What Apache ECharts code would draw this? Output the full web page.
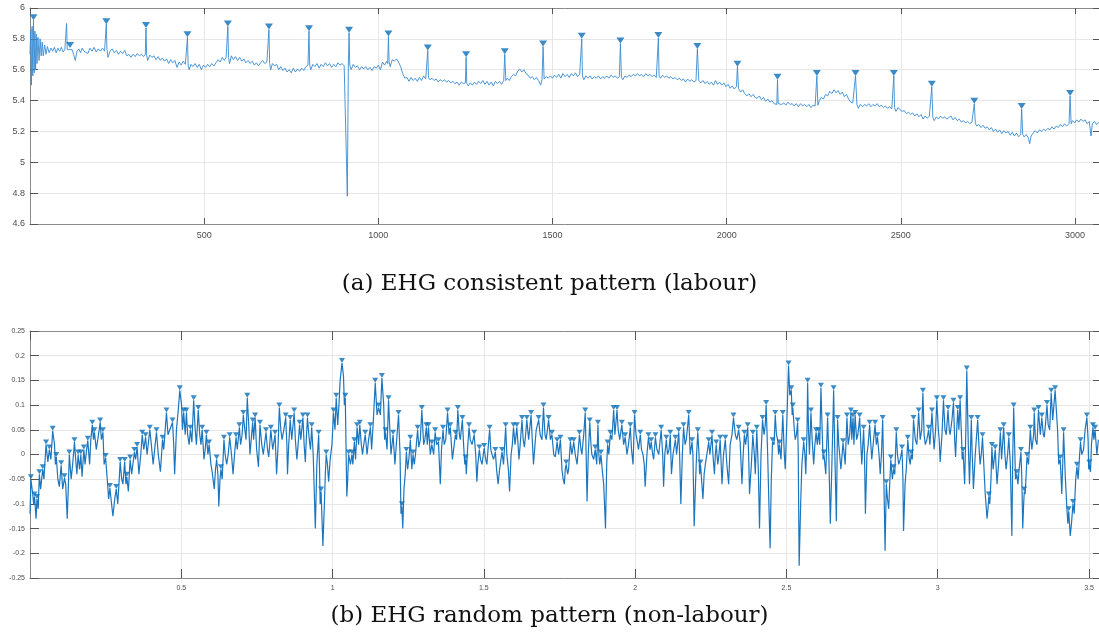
<!DOCTYPE html>
<html>
<head>
<meta charset="utf-8">
<script src="https://cdn.jsdelivr.net/npm/echarts@6/dist/echarts.min.js"></script>
<style>
html,body{margin:0;padding:0;background:#fff;}
#chart{width:1099px;height:635px;}
</style>
</head>
<body>
<div id="chart"></div>
<script>
// ---- Panel (a): EHG consistent pattern (labour) ----
const topSignal = [[0,5.70],[2,5.86],[4,5.50],[6,5.88],[8,5.56],[10,5.92],[12,5.58],[14,5.85],[16,5.60],[18,5.83],[20,5.64],[23,5.81],[26,5.66],[29,5.80],[32,5.69],[35,5.78],[38,5.69],[42,5.76],[46,5.70],[50,5.75],[55,5.71],[60,5.74],[65,5.72],[70,5.745],[75,5.71],[80,5.74],[85,5.72],[90,5.745],[95,5.715],[100,5.73],[103,5.74],[105,5.90],[107,5.73],[110,5.72],[113,5.73],[115,5.74],[117,5.72],[121,5.73],[125,5.70],[130,5.66],[135,5.72],[140,5.735],[145,5.71],[150,5.74],[155,5.72],[160,5.73],[166,5.705],[172,5.74],[178,5.72],[184,5.745],[190,5.715],[196,5.735],[202,5.72],[208,5.74],[214,5.72],[217,5.73],[219,5.895],[221,5.73],[224,5.68],[230,5.72],[236,5.735],[242,5.71],[248,5.725],[254,5.70],[260,5.72],[266,5.705],[272,5.725],[278,5.69],[284,5.70],[290,5.68],[296,5.70],[302,5.685],[308,5.705],[314,5.69],[320,5.70],[326,5.685],[331,5.70],[333,5.87],[335,5.69],[338,5.66],[344,5.695],[350,5.68],[356,5.69],[362,5.665],[368,5.685],[374,5.66],[380,5.675],[386,5.655],[392,5.67],[398,5.64],[404,5.665],[410,5.645],[416,5.66],[422,5.615],[428,5.65],[434,5.63],[440,5.655],[446,5.635],[450,5.64],[452,5.81],[454,5.63],[457,5.60],[462,5.635],[468,5.62],[474,5.64],[480,5.615],[486,5.635],[492,5.60],[498,5.63],[504,5.615],[510,5.635],[516,5.62],[522,5.64],[528,5.625],[534,5.645],[540,5.665],[546,5.65],[552,5.68],[558,5.66],[563,5.68],[566,5.67],[568,5.88],[570,5.68],[573,5.64],[578,5.69],[584,5.665],[590,5.685],[596,5.66],[602,5.68],[608,5.655],[614,5.67],[620,5.645],[626,5.66],[632,5.64],[638,5.655],[644,5.63],[650,5.645],[656,5.625],[662,5.645],[668,5.66],[674,5.64],[680,5.65],[684,5.64],[686,5.86],[688,5.64],[691,5.60],[696,5.64],[702,5.625],[708,5.635],[714,5.60],[720,5.62],[726,5.595],[732,5.61],[738,5.585],[744,5.60],[750,5.58],[756,5.61],[762,5.585],[768,5.605],[774,5.59],[780,5.61],[786,5.595],[792,5.62],[798,5.63],[801,5.85],[803,5.63],[806,5.60],[812,5.635],[818,5.62],[824,5.64],[830,5.61],[836,5.635],[842,5.62],[848,5.645],[854,5.625],[860,5.64],[866,5.615],[872,5.635],[878,5.62],[884,5.645],[890,5.63],[896,5.64],[902,5.625],[907,5.635],[911,4.78],[914,5.63],[916,5.84],[918,5.63],[922,5.60],[928,5.635],[934,5.615],[940,5.625],[946,5.60],[952,5.62],[958,5.605],[964,5.62],[970,5.60],[976,5.615],[982,5.595],[988,5.62],[994,5.61],[1000,5.63],[1006,5.60],[1012,5.65],[1018,5.63],[1024,5.655],[1027,5.64],[1029,5.815],[1031,5.65],[1034,5.62],[1040,5.665],[1046,5.655],[1052,5.67],[1058,5.65],[1064,5.62],[1070,5.575],[1076,5.545],[1082,5.55],[1088,5.525],[1094,5.55],[1100,5.53],[1106,5.545],[1112,5.525],[1118,5.55],[1124,5.53],[1130,5.56],[1136,5.54],[1140,5.55],[1142,5.725],[1144,5.55],[1148,5.535],[1154,5.545],[1160,5.53],[1166,5.54],[1172,5.52],[1178,5.535],[1184,5.525],[1190,5.535],[1196,5.52],[1202,5.53],[1208,5.515],[1214,5.525],[1220,5.51],[1226,5.52],[1232,5.50],[1238,5.52],[1244,5.51],[1250,5.515],[1252,5.68],[1254,5.51],[1258,5.495],[1264,5.515],[1270,5.50],[1276,5.52],[1282,5.505],[1288,5.525],[1294,5.51],[1300,5.53],[1306,5.505],[1312,5.525],[1318,5.50],[1324,5.52],[1330,5.495],[1336,5.525],[1342,5.51],[1348,5.525],[1354,5.505],[1360,5.53],[1363,5.70],[1366,5.53],[1370,5.545],[1376,5.53],[1382,5.555],[1388,5.57],[1394,5.56],[1400,5.59],[1406,5.605],[1412,5.585],[1418,5.60],[1424,5.575],[1430,5.565],[1436,5.545],[1442,5.555],[1448,5.535],[1454,5.55],[1460,5.53],[1466,5.50],[1470,5.535],[1473,5.75],[1476,5.54],[1482,5.555],[1488,5.545],[1494,5.56],[1500,5.545],[1506,5.565],[1512,5.55],[1518,5.57],[1524,5.545],[1530,5.575],[1536,5.555],[1542,5.57],[1548,5.55],[1554,5.575],[1560,5.56],[1566,5.58],[1572,5.555],[1578,5.57],[1582,5.56],[1584,5.80],[1586,5.56],[1590,5.535],[1596,5.56],[1602,5.545],[1608,5.56],[1614,5.54],[1620,5.555],[1626,5.545],[1632,5.56],[1638,5.54],[1644,5.555],[1650,5.545],[1656,5.56],[1662,5.545],[1668,5.565],[1674,5.55],[1680,5.56],[1686,5.545],[1692,5.555],[1695,5.77],[1698,5.55],[1702,5.535],[1708,5.56],[1714,5.55],[1720,5.565],[1726,5.555],[1732,5.57],[1738,5.56],[1744,5.575],[1750,5.56],[1756,5.57],[1762,5.555],[1768,5.575],[1774,5.56],[1780,5.57],[1786,5.555],[1792,5.565],[1798,5.55],[1802,5.56],[1804,5.805],[1806,5.56],[1810,5.545],[1816,5.565],[1822,5.55],[1828,5.56],[1834,5.545],[1840,5.555],[1846,5.54],[1852,5.55],[1858,5.535],[1864,5.545],[1870,5.53],[1876,5.54],[1882,5.52],[1888,5.54],[1894,5.525],[1900,5.535],[1906,5.52],[1912,5.53],[1916,5.735],[1920,5.53],[1926,5.515],[1932,5.53],[1938,5.51],[1944,5.525],[1950,5.505],[1956,5.52],[1962,5.50],[1968,5.53],[1974,5.505],[1980,5.52],[1986,5.50],[1992,5.515],[1998,5.49],[2004,5.505],[2010,5.48],[2016,5.495],[2022,5.475],[2028,5.49],[2031,5.62],[2034,5.48],[2040,5.455],[2046,5.47],[2052,5.445],[2058,5.43],[2064,5.445],[2070,5.425],[2076,5.44],[2082,5.42],[2088,5.415],[2094,5.43],[2100,5.405],[2106,5.42],[2112,5.395],[2118,5.41],[2124,5.39],[2130,5.40],[2136,5.38],[2140,5.39],[2144,5.375],[2146,5.535],[2148,5.38],[2152,5.39],[2158,5.375],[2164,5.385],[2170,5.37],[2176,5.39],[2182,5.375],[2188,5.38],[2194,5.365],[2200,5.38],[2206,5.36],[2212,5.38],[2218,5.365],[2224,5.375],[2230,5.36],[2236,5.375],[2242,5.355],[2248,5.37],[2254,5.365],[2259,5.56],[2262,5.37],[2266,5.40],[2272,5.42],[2278,5.41],[2284,5.44],[2290,5.43],[2296,5.46],[2302,5.445],[2308,5.47],[2314,5.45],[2320,5.465],[2326,5.44],[2332,5.455],[2338,5.425],[2344,5.44],[2350,5.41],[2356,5.39],[2362,5.385],[2366,5.38],[2370,5.56],[2374,5.375],[2378,5.35],[2384,5.375],[2390,5.36],[2396,5.375],[2402,5.365],[2408,5.38],[2414,5.36],[2420,5.375],[2426,5.365],[2432,5.38],[2438,5.36],[2444,5.37],[2450,5.355],[2456,5.365],[2462,5.35],[2468,5.36],[2474,5.345],[2478,5.355],[2480,5.56],[2482,5.355],[2486,5.33],[2492,5.355],[2498,5.34],[2504,5.33],[2510,5.335],[2516,5.315],[2522,5.325],[2528,5.31],[2534,5.32],[2540,5.30],[2546,5.315],[2552,5.295],[2558,5.31],[2564,5.28],[2570,5.30],[2576,5.285],[2582,5.30],[2586,5.29],[2589,5.49],[2592,5.29],[2596,5.27],[2602,5.295],[2608,5.28],[2614,5.30],[2620,5.285],[2626,5.295],[2632,5.28],[2638,5.29],[2644,5.30],[2650,5.275],[2656,5.29],[2662,5.27],[2668,5.28],[2674,5.26],[2680,5.27],[2686,5.255],[2692,5.265],[2698,5.25],[2704,5.26],[2708,5.25],[2711,5.38],[2714,5.25],[2718,5.235],[2724,5.245],[2730,5.225],[2736,5.24],[2742,5.22],[2748,5.23],[2754,5.21],[2760,5.225],[2766,5.20],[2772,5.215],[2778,5.195],[2784,5.21],[2790,5.185],[2796,5.205],[2802,5.19],[2808,5.20],[2814,5.175],[2820,5.195],[2826,5.17],[2832,5.19],[2838,5.165],[2844,5.18],[2847,5.345],[2850,5.18],[2854,5.165],[2860,5.18],[2866,5.16],[2870,5.12],[2874,5.17],[2880,5.19],[2886,5.205],[2892,5.19],[2898,5.21],[2904,5.20],[2910,5.215],[2916,5.205],[2922,5.22],[2928,5.21],[2934,5.23],[2940,5.215],[2946,5.235],[2952,5.225],[2958,5.245],[2964,5.23],[2970,5.25],[2976,5.235],[2980,5.24],[2983,5.25],[2986,5.43],[2989,5.25],[2993,5.27],[2999,5.255],[3005,5.275],[3011,5.26],[3017,5.28],[3023,5.265],[3029,5.275],[3035,5.25],[3041,5.265],[3046,5.17],[3050,5.25],[3056,5.265],[3062,5.245],[3068,5.26]];

const topPeaks = [[10,5.92],[115,5.74],[219,5.895],[333,5.87],[452,5.81],[568,5.88],[686,5.86],[801,5.85],[916,5.84],[1029,5.815],[1142,5.725],[1252,5.68],[1363,5.70],[1473,5.75],[1584,5.80],[1695,5.77],[1804,5.805],[1916,5.735],[2031,5.62],[2146,5.535],[2259,5.56],[2370,5.56],[2480,5.56],[2589,5.49],[2711,5.38],[2847,5.345],[2986,5.43]];

// ---- Panel (b): EHG random pattern (non-labour) ----
const bottomSignal = [[0.000,-0.12],[0.003,-0.05],[0.009,-0.08],[0.012,-0.1],[0.015,-0.085],[0.020,-0.13],[0.023,-0.09],[0.027,-0.11],[0.031,-0.04],[0.035,-0.07],[0.042,-0.03],[0.046,-0.05],[0.053,0.02],[0.059,-0.015],[0.064,0.01],[0.069,-0.01],[0.075,0.048],[0.081,0.02],[0.084,-0.02],[0.087,-0.005],[0.092,-0.05],[0.097,-0.065],[0.103,-0.022],[0.108,-0.07],[0.114,-0.048],[0.118,-0.06],[0.123,-0.13],[0.127,-0.06],[0.130,0.0],[0.136,-0.05],[0.141,-0.02],[0.147,0.025],[0.151,-0.01],[0.155,-0.04],[0.159,0.0],[0.164,-0.03],[0.168,0.0],[0.172,-0.045],[0.178,0.01],[0.182,-0.02],[0.187,0.01],[0.191,0.028],[0.197,-0.02],[0.201,0.03],[0.206,0.06],[0.210,0.03],[0.213,0.045],[0.219,0.01],[0.224,0.03],[0.232,0.065],[0.236,0.03],[0.241,0.045],[0.245,-0.02],[0.250,-0.007],[0.254,-0.04],[0.260,-0.09],[0.264,-0.068],[0.274,-0.125],[0.280,-0.09],[0.285,-0.07],[0.290,-0.1],[0.294,-0.06],[0.298,-0.015],[0.303,-0.05],[0.307,-0.06],[0.313,-0.015],[0.317,-0.06],[0.320,-0.045],[0.325,-0.075],[0.331,-0.01],[0.336,-0.04],[0.340,-0.02],[0.345,0.005],[0.349,-0.01],[0.354,0.015],[0.360,-0.04],[0.366,0.0],[0.371,0.04],[0.376,0.01],[0.382,0.035],[0.387,0.0],[0.396,0.05],[0.401,0.02],[0.407,-0.02],[0.412,0.01],[0.418,0.045],[0.424,0.0],[0.431,-0.035],[0.438,0.03],[0.442,0.01],[0.451,0.085],[0.456,0.04],[0.462,0.05],[0.471,0.065],[0.475,0.02],[0.478,-0.04],[0.484,0.05],[0.490,0.09],[0.495,0.13],[0.501,0.1],[0.504,0.05],[0.508,0.085],[0.513,0.04],[0.517,0.085],[0.521,0.04],[0.526,0.02],[0.530,0.05],[0.535,0.025],[0.541,0.11],[0.546,0.05],[0.550,0.02],[0.556,0.09],[0.561,0.04],[0.565,0.02],[0.569,0.05],[0.575,-0.01],[0.579,0.01],[0.583,0.04],[0.588,0.0],[0.592,0.02],[0.598,-0.02],[0.602,-0.035],[0.609,-0.07],[0.613,-0.03],[0.617,-0.01],[0.621,-0.04],[0.624,-0.105],[0.628,-0.05],[0.631,-0.03],[0.635,-0.05],[0.641,0.03],[0.645,0.0],[0.650,-0.02],[0.655,0.0],[0.660,0.035],[0.666,0.0],[0.671,-0.04],[0.676,0.0],[0.681,0.035],[0.685,0.01],[0.692,0.055],[0.696,0.02],[0.701,0.04],[0.705,0.08],[0.710,0.05],[0.714,0.03],[0.718,0.115],[0.723,0.06],[0.727,0.0],[0.731,0.03],[0.736,0.065],[0.739,0.03],[0.744,0.075],[0.749,0.01],[0.755,-0.025],[0.760,0.06],[0.766,0.02],[0.771,0.0],[0.780,0.045],[0.785,0.01],[0.789,-0.005],[0.796,0.05],[0.802,0.01],[0.810,0.04],[0.815,-0.04],[0.820,0.02],[0.824,0.095],[0.829,0.05],[0.833,0.03],[0.839,0.05],[0.845,0.075],[0.849,0.02],[0.851,-0.04],[0.855,0.02],[0.860,0.07],[0.865,0.03],[0.873,0.085],[0.877,0.03],[0.882,-0.01],[0.886,0.02],[0.891,0.06],[0.895,0.03],[0.902,0.075],[0.906,0.02],[0.910,-0.015],[0.913,0.03],[0.917,0.075],[0.923,0.03],[0.927,0.01],[0.931,0.055],[0.936,0.0],[0.943,-0.15],[0.948,-0.02],[0.954,0.04],[0.957,-0.03],[0.959,-0.1],[0.962,-0.075],[0.968,-0.185],[0.973,-0.1],[0.976,-0.04],[0.979,0.0],[0.983,-0.02],[0.987,-0.055],[0.992,-0.01],[0.998,0.02],[1.003,0.085],[1.008,0.05],[1.012,0.115],[1.017,0.06],[1.021,0.1],[1.025,0.15],[1.031,0.185],[1.036,0.16],[1.039,0.1],[1.042,0.115],[1.047,-0.085],[1.050,-0.05],[1.053,0.0],[1.059,-0.02],[1.064,0.0],[1.067,-0.02],[1.072,0.025],[1.076,-0.01],[1.081,0.055],[1.086,0.02],[1.090,0.06],[1.095,0.02],[1.099,0.0],[1.103,0.02],[1.108,0.04],[1.114,0.0],[1.119,0.03],[1.125,0.055],[1.129,0.01],[1.134,0.06],[1.141,0.145],[1.147,0.08],[1.152,0.095],[1.158,0.08],[1.163,0.155],[1.169,0.1],[1.172,0.03],[1.175,0.045],[1.180,0.01],[1.185,0.11],[1.190,0.04],[1.193,0.0],[1.200,0.04],[1.203,0.01],[1.206,-0.02],[1.213,0.04],[1.218,0.08],[1.223,0.0],[1.226,-0.12],[1.229,-0.105],[1.232,-0.15],[1.236,-0.07],[1.240,-0.04],[1.244,0.005],[1.248,-0.03],[1.252,-0.01],[1.257,0.03],[1.262,-0.03],[1.266,0.0],[1.270,-0.02],[1.274,0.0],[1.281,0.05],[1.285,0.015],[1.290,0.03],[1.295,0.09],[1.301,0.02],[1.305,0.03],[1.310,0.055],[1.313,0.02],[1.317,0.055],[1.323,0.0],[1.328,0.02],[1.334,0.0],[1.339,0.045],[1.344,0.02],[1.350,0.025],[1.356,-0.06],[1.360,0.01],[1.365,0.05],[1.369,0.02],[1.374,0.03],[1.380,0.085],[1.385,0.04],[1.389,0.055],[1.396,-0.01],[1.400,0.01],[1.406,0.04],[1.410,0.03],[1.414,0.09],[1.419,0.04],[1.422,0.03],[1.429,0.07],[1.433,0.02],[1.437,-0.02],[1.440,-0.01],[1.442,-0.04],[1.446,0.01],[1.451,0.055],[1.455,0.03],[1.461,0.02],[1.468,0.04],[1.473,0.0],[1.477,-0.055],[1.480,-0.02],[1.485,0.01],[1.489,-0.01],[1.494,-0.02],[1.498,0.0],[1.501,0.013],[1.506,-0.01],[1.510,-0.02],[1.515,0.02],[1.519,0.05],[1.523,0.01],[1.527,0.0],[1.532,-0.01],[1.538,0.005],[1.542,-0.03],[1.547,-0.06],[1.552,-0.03],[1.560,0.005],[1.565,-0.02],[1.572,0.055],[1.576,0.0],[1.581,-0.03],[1.585,-0.075],[1.590,0.0],[1.594,0.02],[1.598,0.055],[1.603,0.02],[1.609,0.055],[1.613,0.02],[1.616,-0.01],[1.620,0.02],[1.626,0.07],[1.630,0.03],[1.634,0.015],[1.638,0.04],[1.642,0.07],[1.648,0.03],[1.656,0.08],[1.660,0.03],[1.664,-0.02],[1.669,0.02],[1.673,0.05],[1.681,0.07],[1.686,0.04],[1.692,0.03],[1.697,0.095],[1.702,0.04],[1.706,0.03],[1.714,0.07],[1.720,0.03],[1.725,0.04],[1.731,0.0],[1.736,-0.005],[1.742,0.025],[1.747,0.0],[1.753,0.03],[1.758,-0.03],[1.762,-0.05],[1.766,-0.06],[1.769,-0.03],[1.772,-0.02],[1.777,-0.04],[1.780,-0.03],[1.786,0.025],[1.791,0.0],[1.797,0.025],[1.802,0.0],[1.808,-0.02],[1.812,0.01],[1.816,0.04],[1.821,0.01],[1.824,0.0],[1.830,0.04],[1.835,0.085],[1.838,0.0],[1.841,-0.095],[1.845,0.0],[1.850,0.065],[1.854,0.02],[1.857,0.0],[1.863,-0.01],[1.868,0.01],[1.873,-0.02],[1.877,0.06],[1.880,0.0],[1.883,-0.02],[1.887,0.0],[1.891,-0.03],[1.896,-0.06],[1.902,-0.15],[1.906,-0.02],[1.909,0.02],[1.913,0.0],[1.918,0.04],[1.923,0.03],[1.929,0.09],[1.933,0.04],[1.940,0.09],[1.944,0.05],[1.949,0.03],[1.956,0.06],[1.962,0.02],[1.967,0.035],[1.973,0.0],[1.978,0.02],[1.984,0.055],[1.988,0.01],[1.993,-0.02],[1.998,0.08],[2.003,0.04],[2.006,0.03],[2.011,0.01],[2.017,0.04],[2.021,0.01],[2.026,0.0],[2.030,-0.02],[2.033,-0.065],[2.039,0.0],[2.044,0.035],[2.049,0.01],[2.053,0.025],[2.058,0.0],[2.061,-0.01],[2.067,0.035],[2.072,0.01],[2.078,0.0],[2.086,0.05],[2.091,0.0],[2.094,-0.065],[2.098,0.0],[2.103,0.03],[2.107,0.0],[2.112,0.01],[2.116,0.04],[2.120,-0.04],[2.125,0.0],[2.133,0.03],[2.137,0.0],[2.144,0.045],[2.147,0.0],[2.151,-0.1],[2.156,0.0],[2.160,0.055],[2.165,0.02],[2.169,0.03],[2.177,0.08],[2.182,0.0],[2.188,0.025],[2.191,0.0],[2.195,-0.145],[2.200,-0.05],[2.203,0.0],[2.207,0.045],[2.211,0.0],[2.213,-0.04],[2.216,-0.02],[2.224,-0.09],[2.228,-0.04],[2.232,-0.02],[2.237,0.0],[2.243,0.025],[2.247,0.0],[2.254,0.04],[2.257,0.0],[2.262,-0.04],[2.265,0.0],[2.268,0.02],[2.273,-0.02],[2.277,0.0],[2.281,0.03],[2.287,-0.06],[2.292,0.0],[2.298,0.03],[2.303,-0.02],[2.309,-0.06],[2.314,0.02],[2.320,0.04],[2.325,0.075],[2.331,0.04],[2.336,0.03],[2.342,0.05],[2.347,0.025],[2.353,-0.06],[2.357,0.0],[2.361,0.04],[2.365,0.02],[2.372,0.055],[2.375,0.0],[2.378,-0.08],[2.384,-0.02],[2.389,0.04],[2.394,0.0],[2.397,-0.04],[2.402,0.05],[2.407,-0.03],[2.411,-0.15],[2.416,0.0],[2.421,0.07],[2.426,0.04],[2.430,0.06],[2.433,0.1],[2.438,0.0],[2.442,-0.1],[2.446,-0.19],[2.450,-0.05],[2.454,0.025],[2.459,0.02],[2.463,0.08],[2.467,0.04],[2.471,0.03],[2.474,0.0],[2.477,0.02],[2.482,-0.01],[2.488,0.08],[2.493,0.0],[2.496,-0.03],[2.502,0.08],[2.507,0.18],[2.511,0.12],[2.516,0.13],[2.519,0.08],[2.521,0.095],[2.526,0.05],[2.529,0.03],[2.533,0.04],[2.537,0.065],[2.539,0.0],[2.542,-0.225],[2.547,-0.1],[2.551,-0.02],[2.557,0.025],[2.561,0.0],[2.564,-0.04],[2.568,0.05],[2.570,0.145],[2.573,0.05],[2.576,0.0],[2.581,0.085],[2.585,0.03],[2.590,-0.02],[2.594,0.02],[2.598,0.045],[2.602,0.02],[2.606,0.045],[2.610,0.02],[2.614,0.135],[2.618,0.05],[2.621,-0.01],[2.624,0.0],[2.630,-0.04],[2.636,0.075],[2.640,0.0],[2.645,-0.14],[2.649,-0.05],[2.653,0.05],[2.656,0.13],[2.660,0.0],[2.665,-0.135],[2.669,0.07],[2.673,0.02],[2.680,-0.03],[2.687,0.023],[2.691,0.0],[2.694,-0.02],[2.700,0.075],[2.704,0.02],[2.709,0.04],[2.713,0.085],[2.716,0.03],[2.720,0.075],[2.723,0.02],[2.727,0.08],[2.732,0.03],[2.736,0.04],[2.742,0.075],[2.746,0.02],[2.749,-0.02],[2.755,0.05],[2.758,0.0],[2.761,-0.12],[2.766,0.0],[2.770,0.02],[2.775,0.06],[2.779,0.02],[2.782,-0.01],[2.788,0.03],[2.793,0.06],[2.797,0.02],[2.801,0.035],[2.806,0.0],[2.810,-0.04],[2.814,0.0],[2.818,0.07],[2.822,-0.05],[2.826,-0.195],[2.830,-0.06],[2.834,-0.09],[2.838,-0.11],[2.842,-0.05],[2.845,-0.01],[2.850,-0.05],[2.854,-0.03],[2.858,-0.04],[2.863,0.045],[2.867,0.0],[2.871,-0.02],[2.876,-0.01],[2.882,0.01],[2.885,-0.05],[2.887,-0.155],[2.892,-0.06],[2.896,-0.03],[2.901,0.03],[2.906,-0.01],[2.909,-0.02],[2.912,0.0],[2.916,-0.01],[2.920,0.07],[2.926,0.03],[2.931,0.02],[2.937,0.085],[2.942,0.03],[2.947,0.05],[2.951,0.125],[2.955,0.04],[2.959,0.02],[2.964,0.03],[2.970,0.05],[2.974,0.02],[2.981,0.085],[2.985,0.04],[2.988,0.01],[2.993,0.05],[2.997,0.11],[3.002,0.05],[3.005,0.03],[3.008,-0.015],[3.014,0.04],[3.019,0.11],[3.024,0.05],[3.028,0.04],[3.034,0.09],[3.038,0.05],[3.041,0.04],[3.047,0.07],[3.052,0.105],[3.056,0.03],[3.059,-0.005],[3.062,0.04],[3.066,0.09],[3.070,0.05],[3.074,0.11],[3.079,0.03],[3.081,-0.01],[3.084,0.005],[3.089,-0.06],[3.093,0.05],[3.096,0.17],[3.101,0.02],[3.105,-0.06],[3.111,0.07],[3.114,0.0],[3.118,-0.07],[3.124,0.0],[3.132,0.07],[3.136,0.02],[3.140,-0.02],[3.144,0.0],[3.148,0.035],[3.153,-0.03],[3.157,-0.08],[3.163,-0.13],[3.166,-0.11],[3.169,-0.085],[3.172,-0.1],[3.176,-0.05],[3.179,0.015],[3.183,-0.03],[3.190,0.01],[3.196,-0.06],[3.201,-0.02],[3.207,0.045],[3.211,-0.01],[3.218,0.055],[3.222,0.0],[3.226,-0.03],[3.231,0.0],[3.235,0.035],[3.240,-0.02],[3.245,-0.165],[3.248,0.0],[3.251,0.095],[3.255,0.0],[3.257,-0.05],[3.261,-0.04],[3.265,-0.06],[3.269,-0.03],[3.275,0.005],[3.278,-0.05],[3.281,-0.15],[3.284,-0.1],[3.286,-0.075],[3.289,-0.08],[3.295,-0.005],[3.300,-0.02],[3.306,0.05],[3.311,0.01],[3.317,0.04],[3.319,0.085],[3.323,0.03],[3.328,0.02],[3.333,0.09],[3.339,0.04],[3.344,0.075],[3.349,0.04],[3.352,0.035],[3.356,0.06],[3.361,0.1],[3.365,0.06],[3.370,0.05],[3.375,0.125],[3.380,0.07],[3.384,0.1],[3.388,0.13],[3.393,0.08],[3.396,0.05],[3.400,-0.02],[3.405,-0.01],[3.410,-0.08],[3.414,0.0],[3.416,0.045],[3.422,-0.05],[3.427,-0.11],[3.430,-0.14],[3.433,-0.115],[3.438,-0.165],[3.442,-0.14],[3.447,-0.1],[3.451,-0.12],[3.456,-0.05],[3.460,-0.025],[3.464,-0.05],[3.469,0.0],[3.472,0.025],[3.476,0.0],[3.482,0.01],[3.487,0.05],[3.493,0.075],[3.497,0.03],[3.499,-0.03],[3.501,-0.02],[3.505,-0.035],[3.508,0.02],[3.513,0.055],[3.516,0.03],[3.520,0.05],[3.526,0.0],[3.531,0.03]];

const captions = ['(a) EHG consistent pattern (labour)', '(b) EHG random pattern (non-labour)'];

// Peaks of panel (b): local maxima of the signal (as findpeaks marks them)
const bottomPeaks = bottomSignal.filter((p, i, a) =>
  i > 0 && i < a.length - 1 && p[1] > a[i - 1][1] && p[1] > a[i + 1][1]);

const chart = echarts.init(document.getElementById('chart'), null, {renderer: 'canvas'});

const frameColor = '#8a8a8a';
const gridColor = '#e6e6e6';
const labelColor = '#4d4d4d';
const triPath = 'path://M0,0L10,0L5,7Z';
const plainNum = v => String(v);

function xAx(grid, min, max, interval, pos, labels, fs, tickLen) {
  return {
    type: 'value', gridIndex: grid, min: min, max: max, interval: interval, position: pos,
    axisLine: {show: true, onZero: false, lineStyle: {color: frameColor, width: 1}},
    axisTick: {show: true, inside: true, length: tickLen, lineStyle: {color: '#555', width: 1}},
    axisLabel: {show: labels, fontSize: fs, color: labelColor, fontFamily: 'Liberation Sans', margin: 7, showMinLabel: false, showMaxLabel: false, formatter: plainNum},
    splitLine: {show: labels, lineStyle: {color: gridColor, width: 1}}
  };
}
function yAx(grid, min, max, interval, pos, labels, fs, tickLen) {
  return {
    type: 'value', gridIndex: grid, min: min, max: max, interval: interval, position: pos,
    axisLine: {show: true, onZero: false, lineStyle: {color: frameColor, width: 1}},
    axisTick: {show: true, inside: true, length: tickLen, lineStyle: {color: '#555', width: 1}},
    axisLabel: {show: labels, fontSize: fs, color: labelColor, fontFamily: 'Liberation Sans', margin: 5},
    splitLine: {show: labels, lineStyle: {color: gridColor, width: 1}}
  };
}

chart.setOption({
  animation: false,
  backgroundColor: '#ffffff',
  grid: [
    {left: 30, top: 8, width: 1069, height: 216},
    {left: 30, top: 331, width: 1069, height: 247}
  ],
  xAxis: [
    xAx(0, 0, 3069, 500, 'bottom', true, 9, 6),
    xAx(0, 0, 3069, 500, 'top', false, 9, 6),
    xAx(1, 0, 3.533, 0.5, 'bottom', true, 7, 9),
    xAx(1, 0, 3.533, 0.5, 'top', false, 7, 9)
  ],
  yAxis: [
    yAx(0, 4.6, 6, 0.2, 'left', true, 9, 8),
    yAx(0, 4.6, 6, 0.2, 'right', false, 9, 6),
    yAx(1, -0.25, 0.25, 0.05, 'left', true, 7, 9),
    yAx(1, -0.25, 0.25, 0.05, 'right', false, 7, 6)
  ],
  series: [
    {type: 'line', xAxisIndex: 0, yAxisIndex: 0, data: topSignal, showSymbol: false, clip: true,
     lineStyle: {color: '#3a8bd0', width: 0.9}, z: 2},
    {type: 'scatter', xAxisIndex: 0, yAxisIndex: 0, data: topPeaks, symbol: triPath,
     symbolSize: [8, 6], symbolOffset: [0, -3], itemStyle: {color: '#0a6fb8'}, z: 3},
    {type: 'line', xAxisIndex: 2, yAxisIndex: 2, data: bottomSignal, showSymbol: false, clip: true,
     lineStyle: {color: '#1b76bf', width: 1.2}, z: 2},
    {type: 'scatter', xAxisIndex: 2, yAxisIndex: 2, data: bottomPeaks, symbol: triPath,
     symbolSize: [6, 5], symbolOffset: [0, -2.5], itemStyle: {color: '#0a6fb8'}, z: 3}
  ],
  graphic: [
    {type: 'text', left: 'center', top: 273, style: {text: captions[0], font: '23px "DejaVu Serif"', fill: '#111'}},
    {type: 'text', left: 'center', top: 605, style: {text: captions[1], font: '23px "DejaVu Serif"', fill: '#111'}}
  ]
});
</script>
</body>
</html>
